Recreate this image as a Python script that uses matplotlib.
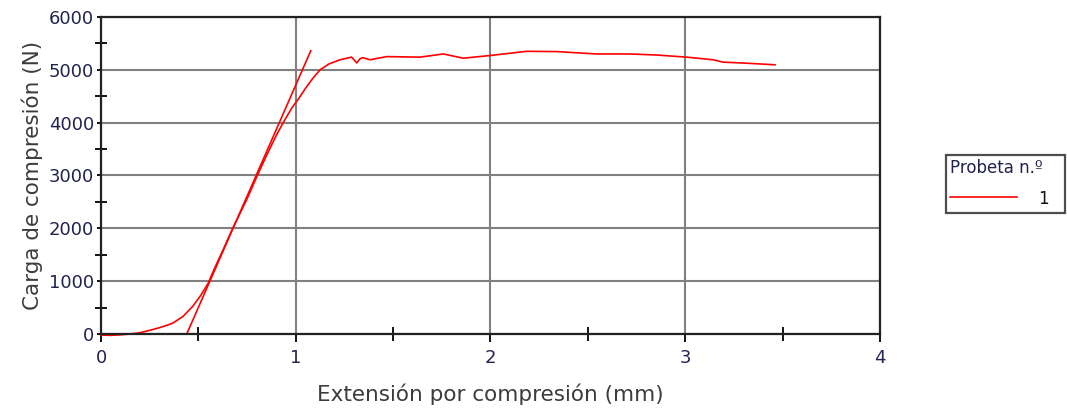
"""
Curva carga-extensión de un ensayo de compresión (probeta 1)
"""

import numpy as np
import matplotlib.pyplot as plt
from matplotlib.ticker import MultipleLocator

# Curva medida: extensión (mm) y carga (N)
extension = [0.0, 0.05, 0.10, 0.15, 0.20, 0.25, 0.30, 0.35, 0.37, 0.42, 0.47, 0.51,
             0.55, 0.58, 0.63, 0.68, 0.75, 0.80, 0.85, 0.90, 0.94, 0.98, 1.01, 1.05,
             1.09, 1.125, 1.17, 1.227, 1.287, 1.313, 1.33, 1.344, 1.381, 1.467, 1.638,
             1.758, 1.86, 1.997, 2.186, 2.34, 2.545, 2.716, 2.853, 3.007, 3.144, 3.195,
             3.315, 3.461]
carga = [-20, -25, -15, 0, 25, 70, 120, 180, 210, 330, 520, 720,
         960, 1220, 1620, 2030, 2560, 2980, 3380, 3760, 4030, 4280, 4430, 4650,
         4850, 5000, 5110, 5190, 5240, 5130, 5210, 5230, 5190, 5250, 5240,
         5300, 5220, 5270, 5350, 5345, 5300, 5300, 5280, 5240, 5190, 5145,
         5125, 5095]

# Recta de ajuste del módulo (tramo lineal)
recta_x = [0.44, 1.077]
recta_y = [0, 5360]

rojo = "#ff0000"
azul_txt = "#23234f"
gris_txt = "#3c3c3c"

fig = plt.figure(figsize=(10.67, 4.11), dpi=100)
ax = fig.add_axes([0.0947, 0.1873, 0.730, 0.7714])

linea, = ax.plot(extension, carga, color=rojo, lw=1.2, label="1", clip_on=False)
ax.plot(recta_x, recta_y, color=rojo, lw=1.2, clip_on=False)

ax.set_xlim(0, 4)
ax.set_ylim(0, 6000)
ax.xaxis.set_major_locator(MultipleLocator(1))
ax.xaxis.set_minor_locator(MultipleLocator(0.5))
ax.yaxis.set_major_locator(MultipleLocator(1000))
ax.yaxis.set_minor_locator(MultipleLocator(500))

ax.grid(True, which="major", color="#808080", lw=1.5)
ax.set_axisbelow(True)
for lado in ["left", "bottom", "top", "right"]:
    ax.spines[lado].set_linewidth(1.6)
    ax.spines[lado].set_color("#222222")

ax.tick_params(axis="y", which="major", direction="out", length=3, width=1.3,
               labelsize=13, labelcolor=azul_txt, pad=2)
ax.tick_params(axis="x", which="major", direction="out", length=6, width=1.3,
               labelsize=13, labelcolor=azul_txt, pad=5)
ax.tick_params(axis="y", which="minor", direction="inout", length=9, width=1.3)
ax.tick_params(axis="x", which="minor", direction="inout", length=10, width=1.3)

ax.set_xlabel("Extensión por compresión (mm)", fontsize=15.5, color=gris_txt, labelpad=12)
ax.set_ylabel("Carga de compresión (N)", fontsize=15.5, color=gris_txt, labelpad=4)

# leyenda fuera del área de trazado, a la derecha
leg = ax.legend(handles=[linea], title="Probeta n.º", loc="upper left",
                bbox_to_anchor=(946 / 1067, 1 - 215 / 411, 119 / 1067, 60 / 411),
                bbox_transform=fig.transFigure, mode="expand",
                frameon=True, fancybox=False,
                fontsize=12, title_fontsize=12, handlelength=4.0, handleheight=1.3,
                borderpad=0.25, labelspacing=0.75, handletextpad=1.3,
                borderaxespad=0)
leg.get_frame().set_edgecolor("#222222")
leg.get_frame().set_linewidth(1.6)
leg.get_title().set_color(azul_txt)
for t in leg.get_texts():
    t.set_color("#111111")
leg._legend_box.align = "left"

fig.savefig("out.png", dpi=100)
